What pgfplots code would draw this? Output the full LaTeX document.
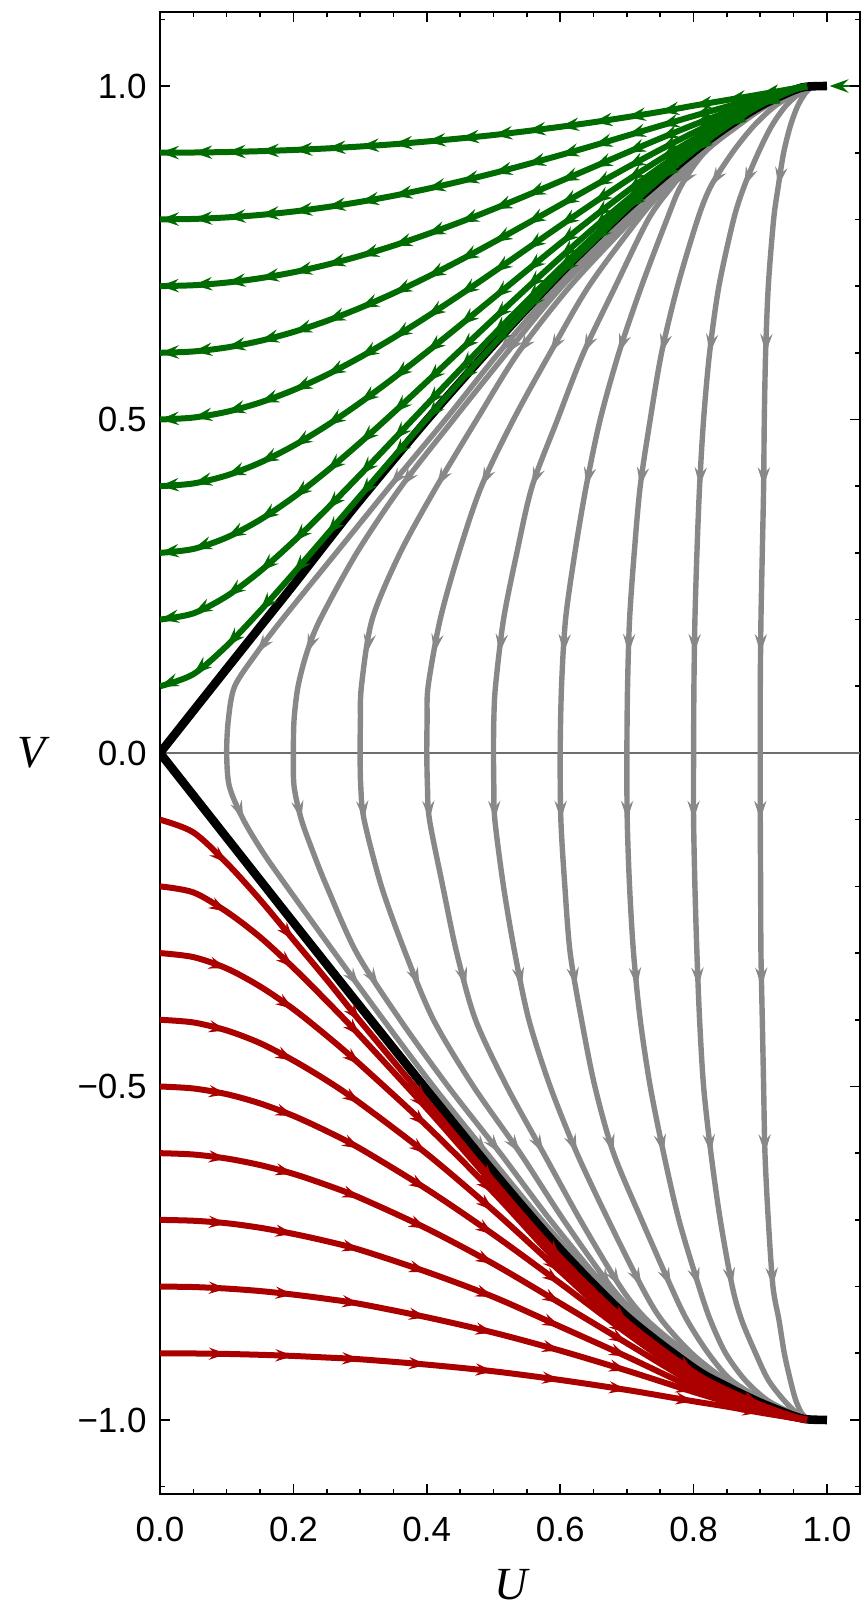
\documentclass[border=0pt]{standalone}
\usepackage{fontspec}
\setmainfont{Liberation Sans}
\newfontfamily\tnr{Liberation Serif}
\usepackage{pgfplots}
\usepackage{pgfplotstable}
\pgfplotsset{compat=1.18}
\usetikzlibrary{arrows.meta}
\definecolor{sgreen}{RGB}{0,107,0}
\definecolor{sred}{RGB}{170,0,0}
\definecolor{sgray}{RGB}{136,136,136}
% arrow heads: tail point (x,y) -> tip point (xn,yn), both on the stream line
\pgfplotstableread{
x y xn yn
0.183 0.2 0.145 0.15
0.3865 0.45 0.345 0.4
0.5515 0.65 0.508 0.6
0.802 0.9 0.746 0.85
0.24 0.2 0.22 0.15
0.401 0.45 0.362 0.4
0.5615 0.65 0.52 0.6
0.804 0.9 0.75 0.85
0.318 0.2 0.31 0.15
0.445 0.45 0.415 0.4
0.576 0.65 0.537 0.6
0.806 0.9 0.755 0.85
0.42 0.2 0.411 0.15
0.506 0.45 0.482 0.4
0.614 0.65 0.585 0.6
0.808 0.9 0.760 0.85
0.515 0.2 0.509 0.15
0.577 0.45 0.558 0.4
0.659 0.65 0.635 0.6
0.811 0.9 0.768 0.85
0.608 0.2 0.605 0.15
0.6495 0.45 0.639 0.4
0.705 0.65 0.688 0.6
0.816 0.9 0.781 0.85
0.704 0.2 0.7025 0.15
0.7275 0.45 0.72 0.4
0.764 0.65 0.752 0.6
0.858 0.9 0.826 0.85
0.802 0.2 0.801 0.15
0.812 0.45 0.809 0.4
0.831 0.65 0.824 0.6
0.897 0.9 0.876 0.85
0.901 0.2 0.9005 0.15
0.9055 0.45 0.905 0.4
0.91 0.65 0.908 0.6
0.935 0.9 0.927 0.85
0.104 -0.05 0.125 -0.1
0.262 -0.3 0.2985 -0.35
0.45 -0.55 0.49 -0.6
0.6165 -0.75 0.661 -0.8
0.201 -0.05 0.212 -0.1
0.295 -0.3 0.3275 -0.35
0.471 -0.55 0.51 -0.6
0.626 -0.75 0.667 -0.8
0.301 -0.05 0.306 -0.1
0.368 -0.3 0.389 -0.35
0.505 -0.55 0.54 -0.6
0.6405 -0.75 0.676 -0.8
0.401 -0.05 0.404 -0.1
0.445 -0.3 0.459 -0.35
0.5475 -0.55 0.575 -0.6
0.66 -0.75 0.69 -0.8
0.5005 -0.05 0.502 -0.1
0.532 -0.3 0.5425 -0.35
0.605 -0.55 0.625 -0.6
0.697 -0.75 0.722 -0.8
0.6005 -0.05 0.601 -0.1
0.615 -0.3 0.6235 -0.35
0.666 -0.55 0.68 -0.6
0.744 -0.75 0.766 -0.8
0.7002 -0.05 0.7005 -0.1
0.71 -0.3 0.715 -0.35
0.745 -0.55 0.755 -0.6
0.793 -0.75 0.808 -0.8
0.8 -0.05 0.8 -0.1
0.805 -0.3 0.807 -0.35
0.8205 -0.55 0.826 -0.6
0.849 -0.75 0.858 -0.8
0.9 -0.05 0.9 -0.1
0.901 -0.3 0.902 -0.35
0.906 -0.55 0.907 -0.6
0.9155 -0.75 0.919 -0.8
}\grayarrows
\pgfplotstableread{
x y xn yn
0.05 -0.119 0.1 -0.165
0.15 -0.22 0.2 -0.28
0.25 -0.34 0.3 -0.402
0.3 -0.402 0.4 -0.522
0.4 -0.522 0.5 -0.642
0.5 -0.642 0.6 -0.756
0.6 -0.756 0.7 -0.853
0.7 -0.853 0.8 -0.928
0.85 -0.955 0.9 -0.977
0.05 -0.209 0.1 -0.238
0.15 -0.276 0.2 -0.322
0.25 -0.372 0.3 -0.424
0.3 -0.424 0.4 -0.533
0.4 -0.533 0.5 -0.647
0.5 -0.647 0.6 -0.761
0.6 -0.761 0.7 -0.857
0.7 -0.857 0.8 -0.931
0.85 -0.957 0.9 -0.978
0.05 -0.306 0.1 -0.323
0.15 -0.35 0.2 -0.384
0.25 -0.424 0.3 -0.467
0.3 -0.467 0.4 -0.559
0.4 -0.559 0.5 -0.659
0.5 -0.659 0.6 -0.767
0.6 -0.767 0.7 -0.862
0.7 -0.862 0.8 -0.934
0.85 -0.959 0.9 -0.979
0.05 -0.404 0.1 -0.416
0.15 -0.435 0.2 -0.461
0.25 -0.491 0.3 -0.525
0.3 -0.525 0.4 -0.601
0.4 -0.601 0.5 -0.686
0.5 -0.686 0.6 -0.777
0.6 -0.777 0.7 -0.867
0.7 -0.867 0.8 -0.938
0.85 -0.962 0.9 -0.981
0.05 -0.503 0.1 -0.5115
0.15 -0.5254 0.2 -0.544
0.25 -0.567 0.3 -0.593
0.3 -0.593 0.4 -0.654
0.4 -0.654 0.5 -0.722
0.5 -0.722 0.6 -0.795
0.6 -0.795 0.7 -0.87
0.7 -0.87 0.8 -0.94
0.85 -0.963 0.9 -0.982
0.05 -0.602 0.1 -0.608
0.15 -0.6178 0.2 -0.631
0.25 -0.6478 0.3 -0.667
0.3 -0.667 0.4 -0.713
0.4 -0.713 0.5 -0.766
0.5 -0.766 0.6 -0.825
0.6 -0.825 0.7 -0.885
0.7 -0.885 0.8 -0.945
0.85 -0.968 0.9 -0.985
0.05 -0.7013 0.1 -0.705
0.15 -0.7118 0.2 -0.721
0.25 -0.732 0.3 -0.745
0.3 -0.745 0.4 -0.778
0.4 -0.778 0.5 -0.8155
0.5 -0.8155 0.6 -0.86
0.6 -0.86 0.7 -0.905
0.7 -0.905 0.8 -0.952
0.85 -0.97 0.9 -0.986
0.05 -0.8007 0.1 -0.803
0.15 -0.8067 0.2 -0.812
0.25 -0.8184 0.3 -0.826
0.3 -0.826 0.4 -0.846
0.4 -0.846 0.5 -0.869
0.5 -0.869 0.6 -0.896
0.6 -0.896 0.7 -0.926
0.7 -0.926 0.8 -0.958
0.85 -0.973 0.9 -0.987
0.05 -0.9003 0.1 -0.901
0.15 -0.9023 0.2 -0.904
0.25 -0.9064 0.3 -0.909
0.3 -0.909 0.4 -0.917
0.4 -0.917 0.5 -0.927
0.5 -0.927 0.6 -0.94
0.6 -0.94 0.7 -0.955
0.7 -0.955 0.8 -0.972
0.85 -0.98 0.9 -0.989
}\redarrows
\pgfplotstableread{
x y xn yn
0.05 0.1181 0 0.1
0.1 0.1606 0.05 0.1181
0.15 0.2130 0.1 0.1606
0.2 0.2693 0.15 0.2130
0.25 0.3272 0.2 0.2693
0.3 0.3854 0.25 0.3272
0.35 0.4434 0.3 0.3854
0.4 0.5008 0.35 0.4434
0.45 0.5572 0.4 0.5008
0.5 0.6123 0.45 0.5572
0.55 0.6659 0.5 0.6123
0.6 0.7190 0.55 0.6659
0.65 0.7675 0.6 0.7190
0.7 0.8162 0.65 0.7675
0.75 0.8610 0.7 0.8162
0.8 0.9028 0.75 0.8610
0.85 0.9400 0.8 0.9028
0.9 0.9713 0.85 0.9400
0.95 0.9942 0.9 0.9713
0.05 0.2093 0 0.2
0.1 0.2351 0.05 0.2093
0.15 0.2724 0.1 0.2351
0.2 0.3170 0.15 0.2724
0.25 0.3658 0.2 0.3170
0.3 0.4171 0.25 0.3658
0.35 0.4696 0.3 0.4171
0.4 0.5224 0.35 0.4696
0.45 0.5750 0.4 0.5224
0.5 0.6270 0.45 0.5750
0.55 0.6778 0.5 0.6270
0.6 0.7271 0.55 0.6778
0.65 0.7745 0.6 0.7271
0.7 0.8196 0.65 0.7745
0.75 0.8630 0.7 0.8196
0.8 0.9045 0.75 0.8630
0.85 0.9415 0.8 0.9045
0.9 0.9722 0.85 0.9415
0.95 0.9945 0.9 0.9722
0.05 0.3059 0 0.3
0.1 0.3231 0.05 0.3059
0.15 0.3496 0.1 0.3231
0.2 0.3834 0.15 0.3496
0.25 0.4225 0.2 0.3834
0.3 0.4652 0.25 0.4225
0.35 0.5102 0.3 0.4652
0.4 0.5566 0.35 0.5102
0.45 0.6036 0.4 0.5566
0.5 0.6506 0.45 0.6036
0.55 0.6971 0.5 0.6506
0.6 0.7427 0.55 0.6971
0.65 0.7868 0.6 0.7427
0.7 0.8290 0.65 0.7868
0.75 0.8695 0.7 0.8290
0.8 0.9065 0.75 0.8695
0.85 0.9430 0.8 0.9065
0.9 0.9732 0.85 0.9430
0.95 0.9948 0.9 0.9732
0.05 0.4041 0 0.4
0.1 0.4161 0.05 0.4041
0.15 0.4353 0.1 0.4161
0.2 0.4606 0.15 0.4353
0.25 0.4909 0.2 0.4606
0.3 0.5251 0.25 0.4909
0.35 0.5621 0.3 0.5251
0.4 0.6011 0.35 0.5621
0.45 0.6414 0.4 0.6011
0.5 0.6824 0.45 0.6414
0.55 0.7234 0.5 0.6824
0.6 0.7640 0.55 0.7234
0.65 0.8036 0.6 0.7640
0.7 0.8419 0.65 0.8036
0.75 0.8785 0.7 0.8419
0.8 0.9120 0.75 0.8785
0.85 0.9445 0.8 0.9120
0.9 0.9742 0.85 0.9445
0.95 0.9950 0.9 0.9742
0.05 0.5029 0 0.5
0.1 0.5115 0.05 0.5029
0.15 0.5254 0.1 0.5115
0.2 0.5441 0.15 0.5254
0.25 0.5669 0.2 0.5441
0.3 0.5933 0.25 0.5669
0.35 0.6226 0.3 0.5933
0.4 0.6540 0.35 0.6226
0.45 0.6870 0.4 0.6540
0.5 0.7211 0.45 0.6870
0.55 0.7558 0.5 0.7211
0.6 0.7905 0.55 0.7558
0.65 0.8247 0.6 0.7905
0.7 0.8582 0.65 0.8247
0.75 0.8902 0.7 0.8582
0.8 0.9202 0.75 0.8902
0.85 0.9476 0.8 0.9202
0.9 0.9755 0.85 0.9476
0.95 0.9953 0.9 0.9755
0.05 0.6020 0 0.6
0.1 0.6080 0.05 0.6020
0.15 0.6178 0.1 0.6080
0.2 0.6312 0.15 0.6178
0.25 0.6478 0.2 0.6312
0.3 0.6673 0.25 0.6478
0.35 0.6893 0.3 0.6673
0.4 0.7133 0.35 0.6893
0.45 0.7389 0.4 0.7133
0.5 0.7658 0.45 0.7389
0.55 0.7936 0.5 0.7658
0.6 0.8217 0.55 0.7936
0.65 0.8499 0.6 0.8217
0.7 0.8777 0.65 0.8499
0.75 0.9046 0.7 0.8777
0.8 0.9302 0.75 0.9046
0.85 0.9537 0.8 0.9302
0.9 0.9765 0.85 0.9537
0.95 0.9955 0.9 0.9765
0.05 0.7013 0 0.7
0.1 0.7053 0.05 0.7013
0.15 0.7118 0.1 0.7053
0.2 0.7207 0.15 0.7118
0.25 0.7320 0.2 0.7207
0.3 0.7453 0.25 0.7320
0.35 0.7606 0.3 0.7453
0.4 0.7776 0.35 0.7606
0.45 0.7959 0.4 0.7776
0.5 0.8155 0.45 0.7959
0.55 0.8360 0.5 0.8155
0.6 0.8572 0.55 0.8360
0.65 0.8786 0.6 0.8572
0.7 0.9002 0.65 0.8786
0.75 0.9214 0.7 0.9002
0.8 0.9418 0.75 0.9214
0.85 0.9609 0.8 0.9418
0.9 0.9785 0.85 0.9609
0.95 0.9957 0.9 0.9785
0.05 0.8007 0 0.8
0.1 0.8030 0.05 0.8007
0.15 0.8067 0.1 0.8030
0.2 0.8118 0.15 0.8067
0.25 0.8184 0.2 0.8118
0.3 0.8263 0.25 0.8184
0.35 0.8354 0.3 0.8263
0.4 0.8457 0.35 0.8354
0.45 0.8570 0.4 0.8457
0.5 0.8693 0.45 0.8570
0.55 0.8825 0.5 0.8693
0.6 0.8963 0.55 0.8825
0.65 0.9107 0.6 0.8963
0.7 0.9255 0.65 0.9107
0.75 0.9403 0.7 0.9255
0.8 0.9550 0.75 0.9403
0.85 0.9692 0.8 0.9550
0.9 0.9830 0.85 0.9692
0.95 0.9960 0.9 0.9830
0.05 0.9003 0 0.9
0.1 0.9010 0.05 0.9003
0.15 0.9023 0.1 0.9010
0.2 0.9041 0.15 0.9023
0.25 0.9064 0.2 0.9041
0.3 0.9093 0.25 0.9064
0.35 0.9127 0.3 0.9093
0.4 0.9168 0.35 0.9127
0.45 0.9214 0.4 0.9168
0.5 0.9265 0.45 0.9214
0.55 0.9324 0.5 0.9265
0.6 0.9388 0.55 0.9324
0.65 0.9457 0.6 0.9388
0.7 0.9533 0.65 0.9457
0.75 0.9614 0.7 0.9533
0.8 0.9705 0.75 0.9614
0.85 0.9790 0.8 0.9705
0.9 0.9875 0.85 0.9790
0.95 0.9963 0.9 0.9875
1.034 1.0 1.004 1.0
}\greenarrows
\tikzset{
  gln/.style={sgray, line width=2.7pt},
  rln/.style={sred, line width=3pt},
  grn/.style={sgreen, line width=3pt},
  blk/.style={black, line width=4.3pt},
}
\begin{document}
\begin{tikzpicture}
\begin{axis}[
  at={(0,0)}, anchor=south west,
  width=350pt, height=741pt, scale only axis,
  xmin=0, xmax=1.0495, ymin=-1.111, ymax=1.111,
  xtick={0,0.2,0.4,0.6,0.8,1}, xticklabels={0.0,0.2,0.4,0.6,0.8,1.0},
  ytick={-1,-0.5,0,0.5,1}, yticklabels={−1.0,−0.5,0.0,0.5,1.0},
  minor xtick={0.05,0.1,0.15,0.25,0.3,0.35,0.45,0.5,0.55,0.65,0.7,0.75,0.85,0.9,0.95},
  minor ytick={-1.1,-0.9,-0.8,-0.7,-0.6,-0.4,-0.3,-0.2,-0.1,0.1,0.2,0.3,0.4,0.6,0.7,0.8,0.9,1.1},
  tick align=inside, major tick length=5pt, minor tick length=2.7pt,
  every tick/.style={black, line width=0.8pt},
  axis line style={line width=1pt},
  ticklabel style={font=\fontsize{17.5}{20}\selectfont},
  xticklabel style={anchor=north, inner sep=0pt, yshift=-11.5pt},
  yticklabel style={anchor=east, inner sep=0pt, xshift=-6.5pt},
  every axis x label/.style={at={(axis description cs:0.501,-0.0614)}, anchor=center, font=\tnr\itshape\fontsize{23}{26}\selectfont},
  every axis y label/.style={at={(axis description cs:-0.183,0.5)}, anchor=center, font=\tnr\itshape\fontsize{23}{26}\selectfont},
  xlabel={U}, ylabel={V},
]
\addplot[color={rgb,255:red,110;green,110;blue,110}, line width=0.6pt] coordinates {(0,0) (1.0495,0)};

% gray stream lines
\addplot[gln, smooth] coordinates {(0.975,0.998) (0.945,0.99) (0.902,0.97) (0.855,0.94) (0.802,0.9) (0.746,0.85) (0.694,0.8) (0.595,0.7) (0.508,0.6) (0.428,0.5) (0.345,0.4) (0.264,0.3) (0.183,0.2) (0.145,0.15) (0.112,0.1) (0.1025,0.05) (0.1,0) (0.104,-0.05) (0.125,-0.1) (0.155,-0.15) (0.19,-0.2) (0.262,-0.3) (0.335,-0.4) (0.41,-0.5) (0.49,-0.6) (0.572,-0.7) (0.661,-0.8) (0.712,-0.85) (0.778,-0.9) (0.838,-0.94) (0.893,-0.97) (0.942,-0.99) (0.97,-0.998)};
\addplot[gln, smooth] coordinates {(0.975,0.998) (0.946,0.99) (0.903,0.97) (0.857,0.94) (0.804,0.9) (0.750,0.85) (0.700,0.8) (0.603,0.7) (0.52,0.6) (0.44,0.5) (0.362,0.4) (0.295,0.3) (0.24,0.2) (0.22,0.15) (0.207,0.1) (0.201,0.05) (0.2,0) (0.201,-0.05) (0.212,-0.1) (0.23,-0.15) (0.25,-0.2) (0.295,-0.3) (0.36,-0.4) (0.432,-0.5) (0.51,-0.6) (0.585,-0.7) (0.667,-0.8) (0.717,-0.85) (0.782,-0.9) (0.84,-0.94) (0.895,-0.97) (0.943,-0.99) (0.97,-0.998)};
\addplot[gln, smooth] coordinates {(0.975,0.998) (0.947,0.99) (0.904,0.97) (0.859,0.94) (0.806,0.9) (0.755,0.85) (0.708,0.8) (0.615,0.7) (0.537,0.6) (0.475,0.5) (0.415,0.4) (0.36,0.3) (0.318,0.2) (0.302,0.1) (0.3005,0.05) (0.3,0) (0.301,-0.05) (0.306,-0.1) (0.332,-0.2) (0.368,-0.3) (0.41,-0.4) (0.47,-0.5) (0.54,-0.6) (0.605,-0.7) (0.676,-0.8) (0.723,-0.85) (0.786,-0.9) (0.842,-0.94) (0.897,-0.97) (0.944,-0.99) (0.97,-0.998)};
\addplot[gln, smooth] coordinates {(0.975,0.998) (0.948,0.99) (0.906,0.97) (0.861,0.94) (0.808,0.9) (0.760,0.85) (0.717,0.8) (0.643,0.7) (0.585,0.6) (0.53,0.5) (0.482,0.4) (0.448,0.3) (0.42,0.2) (0.402,0.1) (0.4005,0.05) (0.4,0) (0.401,-0.05) (0.404,-0.1) (0.424,-0.2) (0.445,-0.3) (0.473,-0.4) (0.52,-0.5) (0.575,-0.6) (0.63,-0.7) (0.69,-0.8) (0.73,-0.85) (0.79,-0.9) (0.845,-0.94) (0.899,-0.97) (0.945,-0.99) (0.97,-0.998)};
\addplot[gln, smooth] coordinates {(0.975,0.998) (0.949,0.99) (0.907,0.97) (0.863,0.94) (0.811,0.9) (0.768,0.85) (0.732,0.8) (0.683,0.7) (0.635,0.6) (0.596,0.5) (0.558,0.4) (0.535,0.3) (0.515,0.2) (0.503,0.1) (0.5005,0.05) (0.5,0) (0.5005,-0.05) (0.502,-0.1) (0.515,-0.2) (0.532,-0.3) (0.553,-0.4) (0.585,-0.5) (0.625,-0.6) (0.672,-0.7) (0.722,-0.8) (0.752,-0.85) (0.797,-0.9) (0.848,-0.94) (0.901,-0.97) (0.946,-0.99) (0.97,-0.998)};
\addplot[gln, smooth] coordinates {(0.975,0.998) (0.95,0.99) (0.909,0.97) (0.866,0.94) (0.816,0.9) (0.781,0.85) (0.760,0.8) (0.722,0.7) (0.688,0.6) (0.66,0.5) (0.639,0.4) (0.622,0.3) (0.608,0.2) (0.602,0.1) (0.6,0) (0.601,-0.1) (0.607,-0.2) (0.615,-0.3) (0.632,-0.4) (0.652,-0.5) (0.68,-0.6) (0.722,-0.7) (0.766,-0.8) (0.79,-0.85) (0.822,-0.9) (0.856,-0.94) (0.904,-0.97) (0.948,-0.99) (0.97,-0.998)};
\addplot[gln, smooth] coordinates {(0.975,0.998) (0.955,0.99) (0.922,0.97) (0.89,0.94) (0.858,0.9) (0.826,0.85) (0.806,0.8) (0.776,0.7) (0.752,0.6) (0.735,0.5) (0.72,0.4) (0.711,0.3) (0.704,0.2) (0.701,0.1) (0.7,0) (0.7005,-0.1) (0.704,-0.2) (0.71,-0.3) (0.72,-0.4) (0.735,-0.5) (0.755,-0.6) (0.778,-0.7) (0.808,-0.8) (0.825,-0.85) (0.848,-0.9) (0.877,-0.94) (0.91,-0.97) (0.948,-0.99) (0.97,-0.998)};
\addplot[gln, smooth] coordinates {(0.976,0.998) (0.96,0.99) (0.938,0.97) (0.917,0.94) (0.897,0.9) (0.876,0.85) (0.86,0.8) (0.838,0.7) (0.824,0.6) (0.815,0.5) (0.809,0.4) (0.805,0.3) (0.802,0.2) (0.8005,0.1) (0.8,0) (0.8,-0.1) (0.802,-0.2) (0.805,-0.3) (0.809,-0.4) (0.815,-0.5) (0.826,-0.6) (0.84,-0.7) (0.858,-0.8) (0.872,-0.85) (0.893,-0.9) (0.912,-0.94) (0.935,-0.97) (0.955,-0.99) (0.97,-0.998)};
\addplot[gln, smooth] coordinates {(0.977,0.998) (0.968,0.99) (0.956,0.97) (0.945,0.94) (0.935,0.9) (0.927,0.85) (0.92,0.8) (0.912,0.7) (0.908,0.6) (0.906,0.5) (0.905,0.4) (0.903,0.3) (0.901,0.2) (0.9,0.1) (0.9,0) (0.9,-0.1) (0.9005,-0.2) (0.901,-0.3) (0.903,-0.4) (0.905,-0.5) (0.907,-0.6) (0.912,-0.7) (0.919,-0.8) (0.928,-0.85) (0.936,-0.9) (0.945,-0.94) (0.953,-0.97) (0.962,-0.99) (0.97,-0.998)};
\addplot[sgray, line width=0.6pt, -{Stealth[length=9.5pt,width=6.2pt,inset=3.4pt]}, quiver={u=\thisrow{xn}-\thisrow{x}, v=\thisrow{yn}-\thisrow{y}}] table[x=x, y=y] {\grayarrows};

% black separatrices
\addplot[blk, smooth] coordinates {(0,0) (0.05,0.0632) (0.1,0.1263) (0.15,0.1891) (0.2,0.2518) (0.25,0.316) (0.3,0.379) (0.4,0.499) (0.5,0.612) (0.6,0.719) (0.7,0.8155) (0.8,0.901) (0.85,0.9385) (0.9,0.970) (0.95,0.9935) (0.97,0.999) (1.0,1.0)};
\addplot[blk, smooth] coordinates {(0,0) (0.1,-0.127) (0.2,-0.254) (0.3,-0.38) (0.4,-0.505) (0.5,-0.628) (0.6,-0.744) (0.7,-0.845) (0.8,-0.922) (0.85,-0.95) (0.9,-0.974) (0.95,-0.994) (0.97,-0.999) (1.0,-1.0)};

% red stream lines
\addplot[rln, smooth] coordinates {(0,-0.1) (0.05,-0.119) (0.1,-0.165) (0.15,-0.22) (0.2,-0.28) (0.25,-0.34) (0.3,-0.402) (0.4,-0.522) (0.5,-0.642) (0.6,-0.756) (0.7,-0.853) (0.8,-0.928) (0.85,-0.955) (0.9,-0.977) (0.95,-0.995) (0.97,-0.9995)};
\addplot[rln, smooth] coordinates {(0,-0.2) (0.05,-0.209) (0.1,-0.238) (0.15,-0.276) (0.2,-0.322) (0.25,-0.372) (0.3,-0.424) (0.4,-0.533) (0.5,-0.647) (0.6,-0.761) (0.7,-0.857) (0.8,-0.931) (0.85,-0.957) (0.9,-0.978) (0.95,-0.995) (0.97,-0.9995)};
\addplot[rln, smooth] coordinates {(0,-0.3) (0.05,-0.306) (0.1,-0.323) (0.15,-0.35) (0.2,-0.384) (0.25,-0.424) (0.3,-0.467) (0.4,-0.559) (0.5,-0.659) (0.6,-0.767) (0.7,-0.862) (0.8,-0.934) (0.85,-0.959) (0.9,-0.979) (0.95,-0.995) (0.97,-0.9995)};
\addplot[rln, smooth] coordinates {(0,-0.4) (0.05,-0.404) (0.1,-0.416) (0.15,-0.435) (0.2,-0.461) (0.25,-0.491) (0.3,-0.525) (0.4,-0.601) (0.5,-0.686) (0.6,-0.777) (0.7,-0.867) (0.8,-0.938) (0.85,-0.962) (0.9,-0.981) (0.95,-0.996) (0.97,-0.9995)};
\addplot[rln, smooth] coordinates {(0,-0.5) (0.05,-0.503) (0.1,-0.5115) (0.15,-0.5254) (0.2,-0.544) (0.25,-0.567) (0.3,-0.593) (0.4,-0.654) (0.5,-0.722) (0.6,-0.795) (0.7,-0.87) (0.8,-0.94) (0.85,-0.963) (0.9,-0.982) (0.95,-0.996) (0.97,-0.9995)};
\addplot[rln, smooth] coordinates {(0,-0.6) (0.05,-0.602) (0.1,-0.608) (0.15,-0.6178) (0.2,-0.631) (0.25,-0.6478) (0.3,-0.667) (0.4,-0.713) (0.5,-0.766) (0.6,-0.825) (0.7,-0.885) (0.8,-0.945) (0.85,-0.968) (0.9,-0.985) (0.95,-0.997) (0.97,-0.9995)};
\addplot[rln, smooth] coordinates {(0,-0.7) (0.05,-0.7013) (0.1,-0.705) (0.15,-0.7118) (0.2,-0.721) (0.25,-0.732) (0.3,-0.745) (0.4,-0.778) (0.5,-0.8155) (0.6,-0.86) (0.7,-0.905) (0.8,-0.952) (0.85,-0.97) (0.9,-0.986) (0.95,-0.997) (0.97,-0.9995)};
\addplot[rln, smooth] coordinates {(0,-0.8) (0.05,-0.8007) (0.1,-0.803) (0.15,-0.8067) (0.2,-0.812) (0.25,-0.8184) (0.3,-0.826) (0.4,-0.846) (0.5,-0.869) (0.6,-0.896) (0.7,-0.926) (0.8,-0.958) (0.85,-0.973) (0.9,-0.987) (0.95,-0.997) (0.97,-0.9995)};
\addplot[rln, smooth] coordinates {(0,-0.9) (0.05,-0.9003) (0.1,-0.901) (0.15,-0.9023) (0.2,-0.904) (0.25,-0.9064) (0.3,-0.909) (0.4,-0.917) (0.5,-0.927) (0.6,-0.94) (0.7,-0.955) (0.8,-0.972) (0.85,-0.98) (0.9,-0.989) (0.95,-0.997) (0.97,-0.9995)};
\addplot[sred, line width=0.6pt, -{Stealth[length=9pt,width=6.2pt,inset=3.2pt]}, quiver={u=\thisrow{xn}-\thisrow{x}, v=\thisrow{yn}-\thisrow{y}}] table[x=x, y=y] {\redarrows};

% green stream lines
\addplot[grn, smooth] coordinates {(0,0.1) (0.05,0.1181) (0.1,0.1606) (0.15,0.2130) (0.2,0.2693) (0.25,0.3272) (0.3,0.3854) (0.35,0.4434) (0.4,0.5008) (0.45,0.5572) (0.5,0.6123) (0.55,0.6659) (0.6,0.7190) (0.65,0.7675) (0.7,0.8162) (0.75,0.8610) (0.8,0.9028) (0.85,0.9400) (0.9,0.9713) (0.95,0.9942) (0.97,0.9993)};
\addplot[grn, smooth] coordinates {(0,0.2) (0.05,0.2093) (0.1,0.2351) (0.15,0.2724) (0.2,0.3170) (0.25,0.3658) (0.3,0.4171) (0.35,0.4696) (0.4,0.5224) (0.45,0.5750) (0.5,0.6270) (0.55,0.6778) (0.6,0.7271) (0.65,0.7745) (0.7,0.8196) (0.75,0.8630) (0.8,0.9045) (0.85,0.9415) (0.9,0.9722) (0.95,0.9945) (0.97,0.9993)};
\addplot[grn, smooth] coordinates {(0,0.3) (0.05,0.3059) (0.1,0.3231) (0.15,0.3496) (0.2,0.3834) (0.25,0.4225) (0.3,0.4652) (0.35,0.5102) (0.4,0.5566) (0.45,0.6036) (0.5,0.6506) (0.55,0.6971) (0.6,0.7427) (0.65,0.7868) (0.7,0.8290) (0.75,0.8695) (0.8,0.9065) (0.85,0.9430) (0.9,0.9732) (0.95,0.9948) (0.97,0.9993)};
\addplot[grn, smooth] coordinates {(0,0.4) (0.05,0.4041) (0.1,0.4161) (0.15,0.4353) (0.2,0.4606) (0.25,0.4909) (0.3,0.5251) (0.35,0.5621) (0.4,0.6011) (0.45,0.6414) (0.5,0.6824) (0.55,0.7234) (0.6,0.7640) (0.65,0.8036) (0.7,0.8419) (0.75,0.8785) (0.8,0.9120) (0.85,0.9445) (0.9,0.9742) (0.95,0.9950) (0.97,0.9994)};
\addplot[grn, smooth] coordinates {(0,0.5) (0.05,0.5029) (0.1,0.5115) (0.15,0.5254) (0.2,0.5441) (0.25,0.5669) (0.3,0.5933) (0.35,0.6226) (0.4,0.6540) (0.45,0.6870) (0.5,0.7211) (0.55,0.7558) (0.6,0.7905) (0.65,0.8247) (0.7,0.8582) (0.75,0.8902) (0.8,0.9202) (0.85,0.9476) (0.9,0.9755) (0.95,0.9953) (0.97,0.9994)};
\addplot[grn, smooth] coordinates {(0,0.6) (0.05,0.6020) (0.1,0.6080) (0.15,0.6178) (0.2,0.6312) (0.25,0.6478) (0.3,0.6673) (0.35,0.6893) (0.4,0.7133) (0.45,0.7389) (0.5,0.7658) (0.55,0.7936) (0.6,0.8217) (0.65,0.8499) (0.7,0.8777) (0.75,0.9046) (0.8,0.9302) (0.85,0.9537) (0.9,0.9765) (0.95,0.9955) (0.97,0.9995)};
\addplot[grn, smooth] coordinates {(0,0.7) (0.05,0.7013) (0.1,0.7053) (0.15,0.7118) (0.2,0.7207) (0.25,0.7320) (0.3,0.7453) (0.35,0.7606) (0.4,0.7776) (0.45,0.7959) (0.5,0.8155) (0.55,0.8360) (0.6,0.8572) (0.65,0.8786) (0.7,0.9002) (0.75,0.9214) (0.8,0.9418) (0.85,0.9609) (0.9,0.9785) (0.95,0.9957) (0.97,0.9995)};
\addplot[grn, smooth] coordinates {(0,0.8) (0.05,0.8007) (0.1,0.8030) (0.15,0.8067) (0.2,0.8118) (0.25,0.8184) (0.3,0.8263) (0.35,0.8354) (0.4,0.8457) (0.45,0.8570) (0.5,0.8693) (0.55,0.8825) (0.6,0.8963) (0.65,0.9107) (0.7,0.9255) (0.75,0.9403) (0.8,0.9550) (0.85,0.9692) (0.9,0.9830) (0.95,0.9960) (0.97,0.9996)};
\addplot[grn, smooth] coordinates {(0,0.9) (0.05,0.9003) (0.1,0.9010) (0.15,0.9023) (0.2,0.9041) (0.25,0.9064) (0.3,0.9093) (0.35,0.9127) (0.4,0.9168) (0.45,0.9214) (0.5,0.9265) (0.55,0.9324) (0.6,0.9388) (0.65,0.9457) (0.7,0.9533) (0.75,0.9614) (0.8,0.9705) (0.85,0.9790) (0.9,0.9875) (0.95,0.9963) (0.97,0.9996)};
\addplot[sgreen, line width=0.6pt, -{Stealth[length=9.5pt,width=6.8pt,inset=3.4pt]}, quiver={u=\thisrow{xn}-\thisrow{x}, v=\thisrow{yn}-\thisrow{y}}] table[x=x, y=y] {\greenarrows};
\end{axis}
\pgfresetboundingbox
\path[use as bounding box] (-80pt,-57.5pt) rectangle (350.5pt,747pt);
\end{tikzpicture}
\end{document}
